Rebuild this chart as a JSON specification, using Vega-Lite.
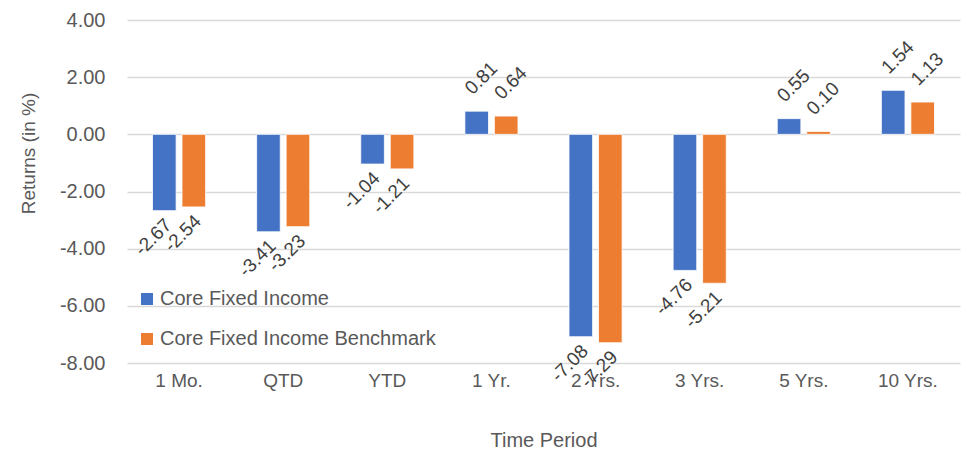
{
  "$schema": "https://vega.github.io/schema/vega-lite/v6.json",
  "autosize": {"type": "none"},
  "padding": {"left": 127, "top": 20, "right": 7, "bottom": 92},
  "width": 833,
  "height": 343,
  "background": "white",
  "config": {
    "font": "Liberation Sans",
    "locale": {"number": {"decimal": ".", "thousands": ",", "grouping": [3], "currency": ["$", ""], "minus": "-"}},
    "view": {"stroke": null},
    "axis": {"labelColor": "#595959", "titleColor": "#595959", "labelFont": "Liberation Sans", "titleFont": "Liberation Sans", "titleFontWeight": "normal"}
  },
  "data": {
    "values": [
      {"period": "1 Mo.", "series": "Core Fixed Income", "value": -2.67},
      {"period": "1 Mo.", "series": "Core Fixed Income Benchmark", "value": -2.54},
      {"period": "QTD", "series": "Core Fixed Income", "value": -3.41},
      {"period": "QTD", "series": "Core Fixed Income Benchmark", "value": -3.23},
      {"period": "YTD", "series": "Core Fixed Income", "value": -1.04},
      {"period": "YTD", "series": "Core Fixed Income Benchmark", "value": -1.21},
      {"period": "1 Yr.", "series": "Core Fixed Income", "value": 0.81},
      {"period": "1 Yr.", "series": "Core Fixed Income Benchmark", "value": 0.64},
      {"period": "2 Yrs.", "series": "Core Fixed Income", "value": -7.08},
      {"period": "2 Yrs.", "series": "Core Fixed Income Benchmark", "value": -7.29},
      {"period": "3 Yrs.", "series": "Core Fixed Income", "value": -4.76},
      {"period": "3 Yrs.", "series": "Core Fixed Income Benchmark", "value": -5.21},
      {"period": "5 Yrs.", "series": "Core Fixed Income", "value": 0.55},
      {"period": "5 Yrs.", "series": "Core Fixed Income Benchmark", "value": 0.10},
      {"period": "10 Yrs.", "series": "Core Fixed Income", "value": 1.54},
      {"period": "10 Yrs.", "series": "Core Fixed Income Benchmark", "value": 1.13}
    ]
  },
  "encoding": {
    "x": {
      "field": "period", "type": "nominal", "sort": null,
      "scale": {"paddingInner": 0.49, "paddingOuter": 0.245},
      "axis": {"title": "Time Period", "labelAngle": 0, "domain": false, "ticks": false, "labelPadding": 8, "labelFontSize": 19, "titleFontSize": 20, "titlePadding": 40}
    },
    "xOffset": {"field": "series", "type": "nominal", "scale": {"paddingInner": 0.2}},
    "y": {
      "field": "value", "type": "quantitative",
      "scale": {"domain": [-8, 4], "nice": false},
      "axis": {"title": "Returns (in %)", "values": [-8, -6, -4, -2, 0, 2, 4], "format": ".2f", "domain": false, "ticks": false, "labelPadding": 22, "labelFontSize": 20, "titleFontSize": 19, "gridColor": "#D9D9D9", "gridWidth": 1.5, "titleX": -99, "titleY": 133, "titleBaseline": "middle", "titleAlign": "center"}
    }
  },
  "layer": [
    {
      "mark": {"type": "bar", "stroke": "white", "strokeWidth": 0.8},
      "encoding": {
        "color": {
          "field": "series", "type": "nominal",
          "scale": {"range": ["#4472C4", "#ED7D31"]},
          "legend": {"title": null, "orient": "none", "legendX": 10, "legendY": 269, "symbolType": "square", "symbolSize": 144, "symbolStrokeWidth": 0, "labelFontSize": 20, "labelColor": "#595959", "labelFont": "Liberation Sans", "labelLimit": 0, "rowPadding": 20, "labelOffset": 3}
        }
      }
    },
    {
      "transform": [{"filter": "datum.value >= 0"}],
      "mark": {"type": "text", "angle": -45, "align": "left", "baseline": "middle", "dx": 8, "dy": -20, "fontSize": 19, "color": "#404040"},
      "encoding": {"text": {"field": "value", "type": "quantitative", "format": ".2f"}}
    },
    {
      "transform": [{"filter": "datum.value < 0"}],
      "mark": {"type": "text", "angle": -45, "align": "right", "baseline": "middle", "dx": -5, "dy": 11, "fontSize": 19, "color": "#404040"},
      "encoding": {"text": {"field": "value", "type": "quantitative", "format": ".2f"}}
    }
  ]
}
